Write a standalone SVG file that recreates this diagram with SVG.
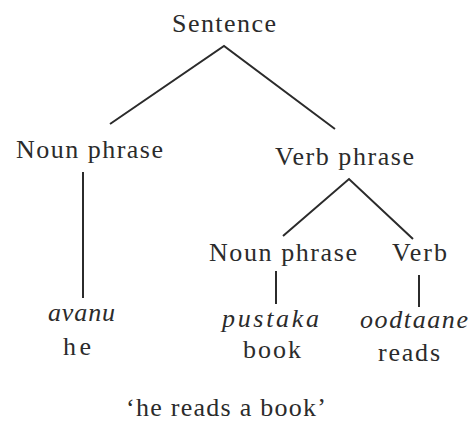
<svg xmlns="http://www.w3.org/2000/svg" width="470" height="424" viewBox="0 0 470 424" font-family="Liberation Serif, DejaVu Serif, serif">
<style>
  text { font-family: 'Liberation Serif', 'DejaVu Serif', serif; font-size: 26px; fill: #2b2b2b; text-anchor: middle; }
  .it { font-style: italic; }
  .edge { stroke: #2b2b2b; stroke-width: 2; fill: none; stroke-linecap: butt; }
</style>
<rect width="470" height="424" fill="#ffffff"/>
<g id="connectors">
  <polyline class="edge" points="110,124 224,46 335,129"/>
  <line class="edge" x1="83" y1="172" x2="83" y2="298"/>
  <polyline class="edge" points="283,236 349,179 413,239"/>
  <line class="edge" x1="276" y1="271" x2="276" y2="304"/>
  <line class="edge" x1="419" y1="275" x2="419" y2="307"/>
</g>
<g id="sentence"><text x="224" y="32" textLength="104" lengthAdjust="spacing">Sentence</text></g>
<g id="np1"><text x="89.5" y="158" textLength="147" lengthAdjust="spacing">Noun phrase</text></g>
<g id="vp"><text x="344.5" y="165" textLength="139" lengthAdjust="spacing">Verb phrase</text></g>
<g id="np2"><text x="283" y="261" textLength="148" lengthAdjust="spacing">Noun phrase</text></g>
<g id="verb"><text x="419.5" y="261" textLength="55" lengthAdjust="spacing">Verb</text></g>
<g id="avanu">
  <text class="it" x="81.5" y="321" textLength="67" lengthAdjust="spacing">avanu</text>
  <text x="77" y="355" textLength="28" lengthAdjust="spacing">he</text>
</g>
<g id="pustaka">
  <text class="it" x="270.5" y="327" textLength="97" lengthAdjust="spacing">pustaka</text>
  <text x="272" y="358" textLength="58" lengthAdjust="spacing">book</text>
</g>
<g id="oodtaane">
  <text class="it" x="414" y="328" textLength="108" lengthAdjust="spacing">oodtaane</text>
  <text x="409" y="361" textLength="62" lengthAdjust="spacing">reads</text>
</g>
<g id="caption"><text x="226" y="416" textLength="200" lengthAdjust="spacing">‘he reads a book’</text></g>
</svg>
